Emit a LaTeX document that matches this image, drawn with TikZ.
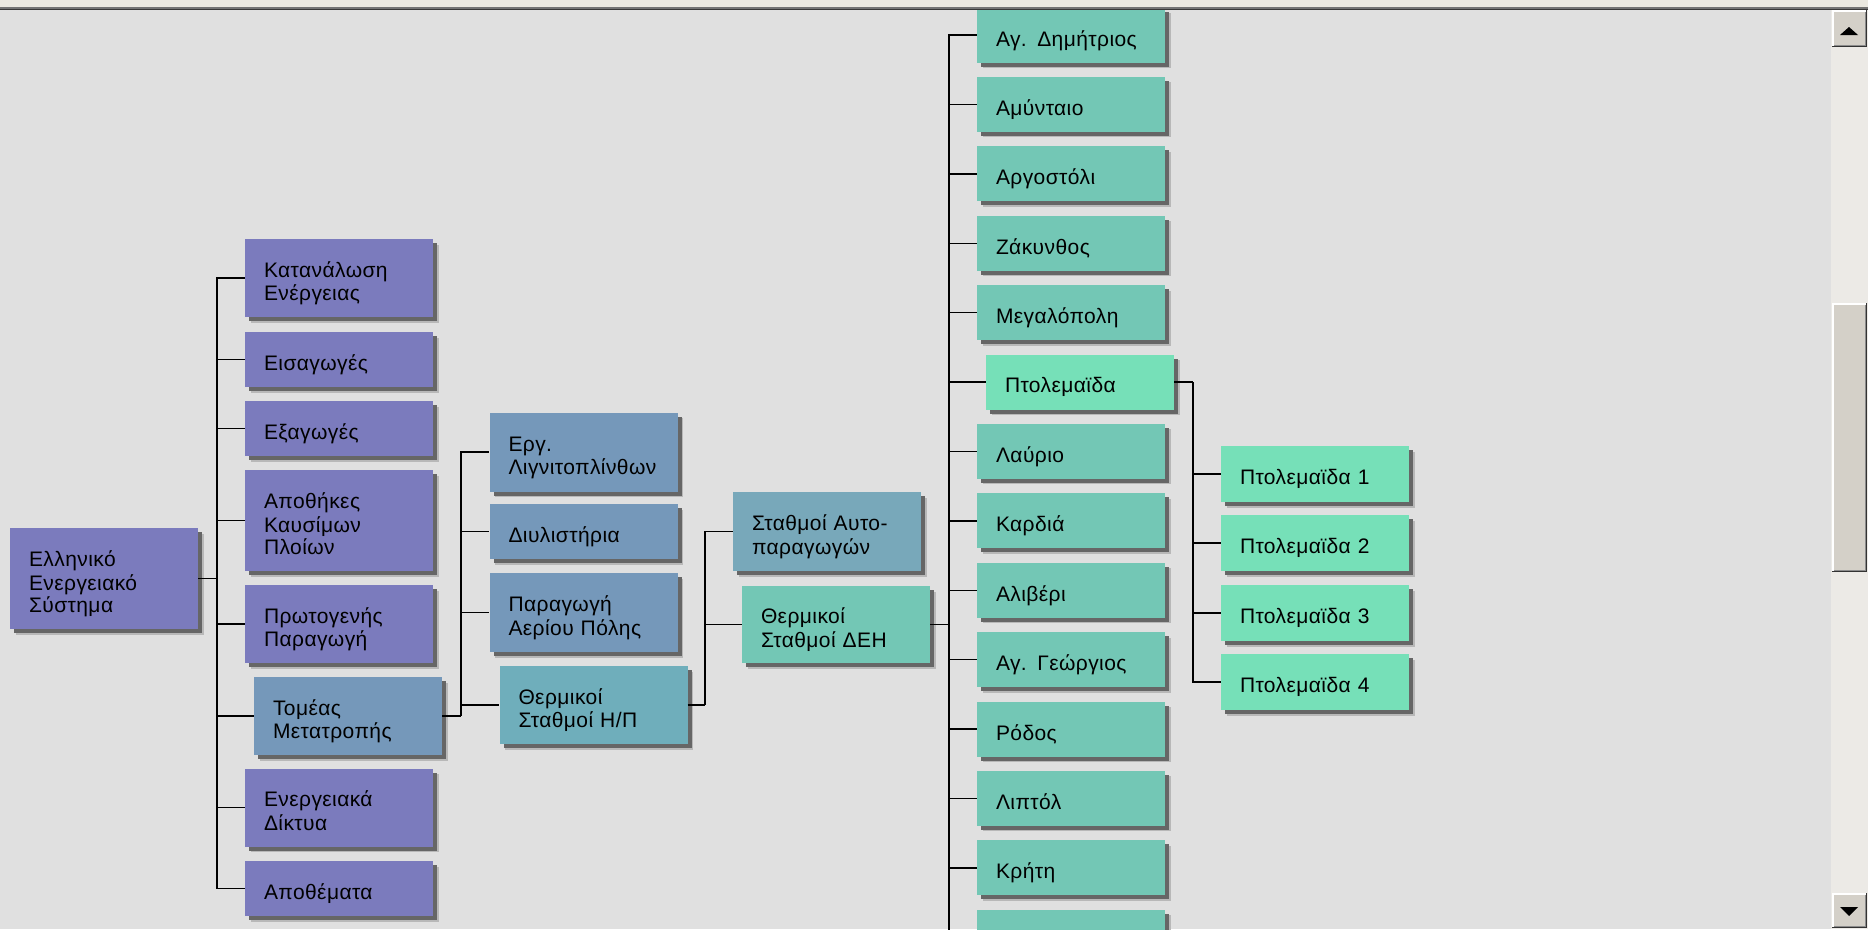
\documentclass[tikz,border=0pt]{standalone}
\usepackage{fontspec}
\setmainfont[LetterSpace=2]{Liberation Sans}
\usetikzlibrary{shadows}
\definecolor{bgc}{HTML}{E0E0E0}
\definecolor{cpur}{HTML}{7B7BBD}
\definecolor{cblu}{HTML}{7598BA}
\definecolor{cthp}{HTML}{6FAEBB}
\definecolor{caut}{HTML}{78A8BA}
\definecolor{cteal}{HTML}{73C7B5}
\definecolor{cgrn}{HTML}{76E0B8}
\definecolor{sbface}{HTML}{D4D0C8}
\definecolor{sbtrack}{HTML}{ECEAE6}
\definecolor{topbar}{HTML}{EAE8E0}
\tikzset{
  box/.style={rectangle, inner sep=0pt, minimum width=188pt, draw=none,
    drop shadow={shadow xshift=5.5pt, shadow yshift=-5.5pt, fill=black!28, opacity=1},
    drop shadow={shadow xshift=4pt, shadow yshift=-4pt, fill=black!60, opacity=1}},
  lbl/.style={inner sep=0pt, text width=150pt, align=left, font=\fontsize{21}{22}\selectfont},
  conn/.style={line width=1.4pt, black},
}
\newcommand\bx[6]{%
  \node[box, fill=#5, minimum height=#4pt] (#1) at (#2,#3) {};
  \node[lbl] (#1t) at ([yshift=-6.5pt]#1.center) {\strut #6\strut};}
\begin{document}
\begin{tikzpicture}[x=1pt,y=-1pt]
\useasboundingbox (0,0) rectangle (1868,929);
\clip (0,0) rectangle (1868,929);
\fill[bgc] (0,0) rectangle (1868,929);

% level 0 and 1
\bx{root}{104}{578.5}{101}{cpur}{Ελληνικό\\Ενεργειακό\\Σύστημα}
\bx{kat}{339}{278}{78}{cpur}{Κατανάλωση\\Ενέργειας}
\bx{eis}{339}{359.5}{55}{cpur}{Εισαγωγές}
\bx{exa}{339}{428.5}{55}{cpur}{Εξαγωγές}
\bx{apo}{339}{520.5}{101}{cpur}{Αποθήκες\\Καυσίμων\\Πλοίων}
\bx{pro}{339}{624}{78}{cpur}{Πρωτογενής\\Παραγωγή}
\bx{tom}{348}{716}{78}{cblu}{Τομέας\\Μετατροπής}
\bx{dik}{339}{807.5}{78}{cpur}{Ενεργειακά\\Δίκτυα}
\bx{apm}{339}{888.5}{55}{cpur}{Αποθέματα}

% level 2
\bx{erg}{583.5}{452}{79}{cblu}{Εργ.\\Λιγνιτοπλίνθων}
\bx{diy}{583.5}{531.5}{55}{cblu}{Διυλιστήρια}
\bx{par}{583.5}{612.5}{79}{cblu}{Παραγωγή\\Αερίου Πόλης}
\bx{thp}{593.5}{705}{78}{cthp}{Θερμικοί\\Σταθμοί Η/Π}

% level 3
\bx{aut}{827}{531.5}{79}{caut}{Σταθμοί Αυτο-\\παραγωγών}
\bx{deh}{836}{624.5}{77}{cteal}{Θερμικοί\\Σταθμοί ΔΕΗ}

% level 4
\bx{c0}{1071}{35}{55}{cteal}{Αγ. Δημήτριος}
\bx{c1}{1071}{104.4}{55}{cteal}{Αμύνταιο}
\bx{c2}{1071}{173.8}{55}{cteal}{Αργοστόλι}
\bx{c3}{1071}{243.2}{55}{cteal}{Ζάκυνθος}
\bx{c4}{1071}{312.6}{55}{cteal}{Μεγαλόπολη}
\bx{c5}{1080}{382}{55}{cgrn}{Πτολεμαϊδα}
\bx{c6}{1071}{451.4}{55}{cteal}{Λαύριο}
\bx{c7}{1071}{520.8}{55}{cteal}{Καρδιά}
\bx{c8}{1071}{590.2}{55}{cteal}{Αλιβέρι}
\bx{c9}{1071}{659.6}{55}{cteal}{Αγ. Γεώργιος}
\bx{c10}{1071}{729}{55}{cteal}{Ρόδος}
\bx{c11}{1071}{798.4}{55}{cteal}{Λιπτόλ}
\bx{c12}{1071}{867.8}{55}{cteal}{Κρήτη}
\bx{c13}{1071}{937.2}{55}{cteal}{}

% level 5
\bx{p1}{1315}{474}{56}{cgrn}{Πτολεμαϊδα 1}
\bx{p2}{1315}{543}{56}{cgrn}{Πτολεμαϊδα 2}
\bx{p3}{1315}{613}{56}{cgrn}{Πτολεμαϊδα 3}
\bx{p4}{1315}{682}{56}{cgrn}{Πτολεμαϊδα 4}

% connectors
\coordinate (b1) at (217,578.5);
\draw[conn] (root.east) -- (b1);
\foreach \n in {kat,eis,exa,apo,pro,tom,dik,apm} \draw[conn] (b1) |- (\n.west);
\coordinate (b2) at (461,716);
\draw[conn] (tom.east) -- (b2);
\foreach \n in {erg,diy,par,thp} \draw[conn] (b2) |- (\n.west);
\coordinate (b3) at (705,705);
\draw[conn] (thp.east) -- (b3);
\foreach \n in {aut,deh} \draw[conn] (b3) |- (\n.west);
\coordinate (b4) at (949,624.5);
\draw[conn] (deh.east) -- (b4);
\foreach \n in {c0,c1,c2,c3,c4,c5,c6,c7,c8,c9,c10,c11,c12,c13} \draw[conn] (b4) |- (\n.west);
\coordinate (b5) at (1193,382);
\draw[conn] (c5.east) -- (b5);
\foreach \n in {p1,p2,p3,p4} \draw[conn] (b5) |- (\n.west);

% window top edge
\fill[topbar] (0,0) rectangle (1868,7);
\fill[black!55] (0,7) rectangle (1868,8.5);
\fill[black!78] (0,8.5) rectangle (1868,10);

% scrollbar
\fill[sbtrack] (1831,10) rectangle (1868,929);
\foreach \ya/\yb in {10/47, 303/572, 893/928}{
  \fill[sbface] (1832,\ya) rectangle (1867,\yb);
  \draw[white, line width=1.5pt] (1833,\yb-1) -- (1833,\ya+1) -- (1866,\ya+1);
  \draw[black!45, line width=1.2pt] (1834,\yb-1.8) -- (1865.2,\yb-1.8) -- (1865.2,\ya+2);
  \draw[black!80, line width=1.2pt] (1832,\yb-0.6) -- (1866.4,\yb-0.6) -- (1866.4,\ya);
}
\fill[black] (1840,35) -- (1858,35) -- (1849,27) -- cycle;
\fill[black] (1840,907) -- (1858,907) -- (1849,916) -- cycle;
\end{tikzpicture}
\end{document}
